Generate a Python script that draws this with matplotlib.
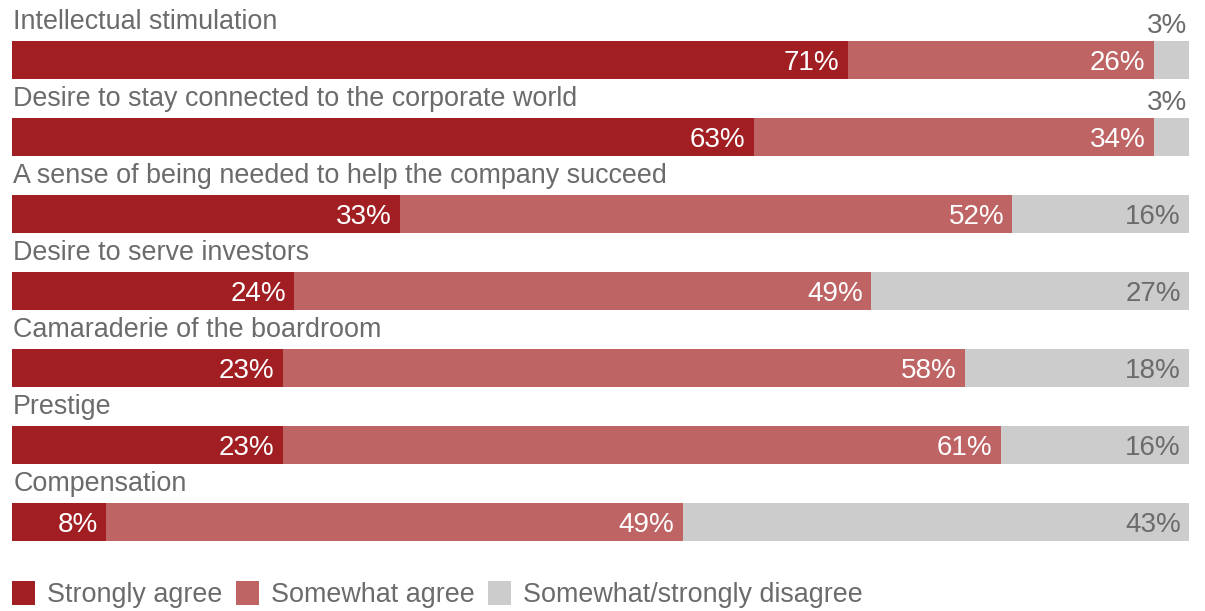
import matplotlib
matplotlib.use("Agg")
import matplotlib.pyplot as plt
from matplotlib.patches import Rectangle

plt.rcParams['font.family'] = ['Liberation Sans', 'DejaVu Sans']

# data
categories = ['Intellectual stimulation',
              'Desire to stay connected to the corporate world',
              'A sense of being needed to help the company succeed',
              'Desire to serve investors',
              'Camaraderie of the boardroom',
              'Prestige',
              'Compensation']
strongly = [71, 63, 33, 24, 23, 23, 8]
somewhat = [26, 34, 52, 49, 58, 61, 49]
disagree = [3, 3, 16, 27, 18, 16, 43]

legend_labels = ['Strongly agree', 'Somewhat agree', 'Somewhat/strongly disagree']
colors = ['#A11F22', '#BE6464', '#CCCCCC']
text_grey = '#6B6B6B'

W, H = 1205, 611
fig = plt.figure(figsize=(W / 100, H / 100), dpi=100)
ax = fig.add_axes([12 / W, (H - 560.5) / H, 1177 / W, 539 / H])

bh = 0.494
fs = 19.4
fs_num = 20
for i, cat in enumerate(categories):
    s, m, d = strongly[i], somewhat[i], disagree[i]
    ax.barh(i, s, height=bh, left=0, color=colors[0], linewidth=0)
    ax.barh(i, m, height=bh, left=s, color=colors[1], linewidth=0)
    # grey fills the rest of the row
    ax.barh(i, 100 - s - m, height=bh, left=s + m, color=colors[2], linewidth=0)

    ax.text(0.1, i - bh / 2 - 0.15, cat, ha='left', va='baseline',
            fontsize=fs, color=text_grey)

    ax.annotate(f'{s}%', (s, i), xytext=(-6, -2), textcoords='offset points',
                ha='right', va='center', fontsize=fs_num, color='white')
    ax.annotate(f'{m}%', (s + m, i), xytext=(-6, -2), textcoords='offset points',
                ha='right', va='center', fontsize=fs_num, color='white')
    if d < 5:
        ax.annotate(f'{d}%', (100, i - bh / 2), xytext=(-1, 6), textcoords='offset points',
                    ha='right', va='baseline', fontsize=fs_num, color=text_grey)
    else:
        ax.annotate(f'{d}%', (100, i), xytext=(-6, -2), textcoords='offset points',
                    ha='right', va='center', fontsize=fs_num, color=text_grey)

ax.set_xlim(0, 100)
ax.set_ylim(len(categories) - 0.5, -0.5)
ax.axis('off')

# legend
leg_x = [12, 236, 488]
for x0, lab, c in zip(leg_x, legend_labels, colors):
    fig.patches.append(Rectangle((x0 / W, (H - 605) / H), 23 / W, 24 / H,
                                 transform=fig.transFigure, color=c, linewidth=0))
    fig.text((x0 + 35) / W, (H - 595) / H, lab, ha='left', va='center',
             fontsize=fs, color=text_grey)

fig.savefig('out.png', dpi=100)
